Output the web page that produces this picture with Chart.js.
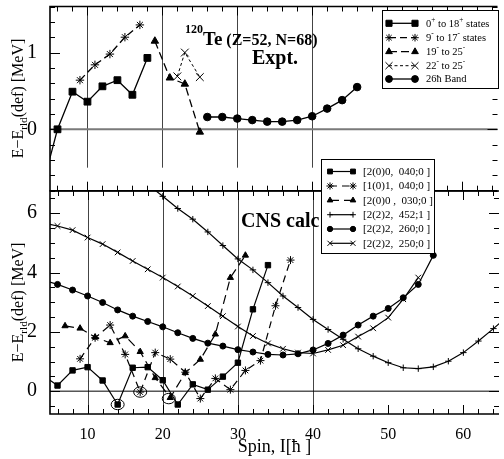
<!DOCTYPE html>
<html>
<head>
<meta charset="utf-8">
<script src="https://cdn.jsdelivr.net/npm/chart.js@4/dist/chart.umd.min.js"></script>
<style>
  html, body { margin: 0; padding: 0; background: #fff; }
  #wrap { position: relative; width: 504px; height: 459px; overflow: hidden; }
  canvas { position: absolute; left: 0; top: 0; }
</style>
</head>
<body>
<div id="wrap">
  <canvas id="expt" width="504" height="459"></canvas>
  <canvas id="cns" width="504" height="459"></canvas>
</div>
<script>
// ---- Expt. (painel de cima) ----
const gsbSpin = [4, 6, 8, 10, 12, 14, 16, 18];
const gsbE = [-0.74, 0, 0.49, 0.36, 0.56, 0.64, 0.45, 0.93];
const negSpin = [9, 11, 13, 15, 17];
const negE = [0.64, 0.84, 0.98, 1.2, 1.36];
const tri19Spin = [19, 21, 23, 25];
const tri19E = [1.15, 0.67, 0.59, -0.035];
const x22Spin = [22, 23, 25];
const x22E = [0.69, 1.0, 0.68];
const bandSpin = [26, 28, 30, 32, 34, 36, 38, 40, 42, 44, 46];
const bandE = [0.16, 0.16, 0.14, 0.12, 0.1, 0.1, 0.12, 0.17, 0.27, 0.38, 0.55];

// ---- CNS calc (painel de baixo) ----
const sqSpin = [4, 6, 8, 10, 12, 14, 16, 18, 20, 22, 24, 26, 28, 30, 32, 34];
const sqE = [0.55, 0.19, 0.7, 0.81, 0.36, -0.45, 0.79, 0.81, 0.37, -0.45, 0.23, 0.05, 0.49, 0.96, 2.76, 4.25];
const astSpin = [9, 11, 13, 15, 17, 19, 21, 23, 25, 27, 29, 31, 33, 35, 37];
const astE = [1.09, 1.8, 2.23, 1.24, -0.03, 1.3, 1.08, 0.64, -0.25, 0.43, 0.05, 0.7, 1.03, 2.88, 4.42];
const triSpin = [7, 9, 11, 13, 15, 17, 19, 21, 23, 25, 27, 29, 31];
const triE = [2.2, 2.12, 1.82, 1.63, 1.86, 1.33, 0.45, -0.22, 0.62, 1.07, 1.92, 3.83, 4.58];
const plusSpin = [18, 20, 22, 24, 26, 28, 30, 32, 34, 36, 38, 40, 42, 44, 46, 48, 50, 52, 54, 56, 58, 60, 62, 64, 66];
const plusE = [6.98, 6.57, 6.16, 5.8, 5.37, 4.91, 4.46, 4.09, 3.66, 3.21, 2.82, 2.42, 2.08, 1.75, 1.43, 1.18, 0.96, 0.79, 0.76, 0.82, 1.01, 1.3, 1.69, 2.11, 2.55];
const circSpin = [4, 6, 8, 10, 12, 14, 16, 18, 20, 22, 24, 26, 28, 30, 32, 34, 36, 38, 40, 42, 44, 46, 48, 50, 52, 54, 56];
const circE = [3.75, 3.6, 3.41, 3.21, 2.99, 2.74, 2.53, 2.35, 2.17, 1.97, 1.78, 1.62, 1.52, 1.4, 1.32, 1.24, 1.22, 1.26, 1.39, 1.61, 1.89, 2.23, 2.53, 2.79, 3.15, 3.6, 4.58];
const xSpin = [4, 6, 8, 10, 12, 14, 16, 18, 20, 22, 24, 26, 28, 30, 32, 34, 36, 38, 40, 42, 44, 46, 48, 50, 52, 54];
const xE = [5.68, 5.57, 5.43, 5.18, 4.96, 4.68, 4.39, 4.11, 3.83, 3.53, 3.21, 2.87, 2.53, 2.18, 1.86, 1.61, 1.43, 1.3, 1.27, 1.39, 1.55, 1.84, 2.12, 2.48, 3.1, 3.83];
// pontos circulados
const circledSpin = [14, 17, 20.8];
const circledE = [-0.45, -0.03, -0.25];

const spinTicks = [10, 20, 30, 40, 50, 60];
const vLines = [10, 20, 30, 40];

const FONT = '"Liberation Serif", "Times New Roman", serif';
Chart.defaults.font.family = FONT;
Chart.defaults.color = '#000';

function series(spin, e, style) {
  return Object.assign({
    data: spin.map((s, i) => ({ x: s, y: e[i] })),
    borderColor: '#000', backgroundColor: '#000',
    pointBackgroundColor: '#000', pointBorderColor: '#000',
    borderWidth: 1.3, pointBorderWidth: 1, fill: false, tension: 0
  }, style);
}

function drawRich(ctx, parts, x, y, size) {
  parts.forEach(p => {
    const mode = p[1];
    const s = mode ? size * 0.7 : size;
    ctx.font = s + 'px ' + FONT;
    const dy = mode === 'sup' ? -size * 0.4 : (mode === 'sub' ? size * 0.3 : 0);
    ctx.fillText(p[0], x, y + dy);
    x += ctx.measureText(p[0]).width;
  });
}

const decor = {
  id: 'decor',
  beforeDatasetsDraw(chart, args, o) {
    const { ctx, chartArea: a, scales: { x, y } } = chart;
    ctx.save();
    ctx.strokeStyle = '#444';
    ctx.lineWidth = 1;
    vLines.forEach(v => {
      const px = Math.round(x.getPixelForValue(v)) + 0.5;
      ctx.beginPath();
      ctx.moveTo(px, y.getPixelForValue(o.vFrom));
      ctx.lineTo(px, a.top);
      ctx.stroke();
    });
    ctx.strokeStyle = o.zeroColor;
    ctx.lineWidth = o.zeroWidth;
    const z = y.getPixelForValue(0);
    ctx.beginPath();
    ctx.moveTo(a.left, z);
    ctx.lineTo(a.right, z);
    ctx.stroke();
    ctx.restore();
  },
  afterDatasetsDraw(chart, args, o) {
    const { ctx, chartArea: a, scales: { x, y } } = chart;
    ctx.save();
    // circulos
    ctx.strokeStyle = '#000';
    ctx.lineWidth = 1;
    (o.circled || []).forEach(c => {
      ctx.beginPath();
      ctx.ellipse(x.getPixelForValue(c[0]), y.getPixelForValue(c[1]), 6.5, 5.2, 0, 0, Math.PI * 2);
      ctx.stroke();
    });
    // ticks para dentro
    ctx.beginPath();
    for (let v = 6; v <= x.max; v += 2) {
      const px = Math.round(x.getPixelForValue(v)) + 0.5;
      const len = v % 10 === 0 ? 9 : 5;
      ctx.moveTo(px, a.top); ctx.lineTo(px, a.top + len);
      ctx.moveTo(px, a.bottom); ctx.lineTo(px, a.bottom - len);
    }
    for (let k = Math.ceil(y.min / o.yStep); k * o.yStep <= y.max + 1e-9; k++) {
      const v = k * o.yStep;
      const py = Math.round(y.getPixelForValue(v)) + 0.5;
      const r = v / o.yMajor;
      const len = Math.abs(r - Math.round(r)) < 1e-6 ? 10 : 5;
      ctx.moveTo(a.left, py); ctx.lineTo(a.left + len, py);
      ctx.moveTo(a.right, py); ctx.lineTo(a.right - len, py);
    }
    ctx.stroke();
    // moldura
    ctx.lineWidth = 1.6;
    ctx.beginPath();
    ctx.moveTo(a.right, a.top); ctx.lineTo(a.left, a.top);
    ctx.lineTo(a.left, a.bottom); ctx.lineTo(a.right, a.bottom);
    ctx.stroke();
    // titulo do eixo y
    ctx.fillStyle = '#000';
    ctx.translate(17, (a.top + a.bottom) / 2);
    ctx.rotate(-Math.PI / 2);
    const tparts = [['E\u2212E'], ['rld', 'sub'], ['(def) [MeV]']];
    let w = 0;
    tparts.forEach(p => { ctx.font = (p[1] ? 11 : 16) + 'px ' + FONT; w += ctx.measureText(p[0]).width; });
    ctx.textBaseline = 'alphabetic';
    drawRich(ctx, tparts, -w / 2, 5.5, 16);
    ctx.setTransform(1, 0, 0, 1, 0, 0);
    // textos
    (o.texts || []).forEach(t => {
      let tx = t.x;
      t.parts.forEach(p => {
        ctx.font = 'bold ' + p.size + 'px ' + FONT;
        ctx.fillText(p.text, tx, t.y + (p.dy || 0));
        tx += ctx.measureText(p.text).width;
      });
    });
    // legenda
    const L = o.legend;
    if (L) {
      ctx.fillStyle = '#fff';
      ctx.fillRect(L.x, L.y, L.w, L.h);
      ctx.strokeStyle = '#000';
      ctx.lineWidth = 1;
      ctx.strokeRect(L.x + 0.5, L.y + 0.5, L.w, L.h);
      L.rows.forEach((label, i) => {
        const ds = chart.data.datasets[i];
        const ry = L.rowY[i];
        ctx.save();
        ctx.strokeStyle = '#000';
        ctx.lineWidth = ds.borderWidth;
        ctx.setLineDash(ds.borderDash || []);
        ctx.beginPath();
        ctx.moveTo(L.s1, ry); ctx.lineTo(L.s2, ry);
        ctx.stroke();
        ctx.restore();
        ctx.fillStyle = '#000';
        ctx.strokeStyle = '#000';
        ctx.lineWidth = 1;
        [L.s1, L.s2].forEach(sx => {
          Chart.helpers.drawPoint(ctx, { pointStyle: ds.pointStyle, radius: ds.pointRadius * 0.9, rotation: 0, borderWidth: 1 }, sx, ry);
        });
        ctx.fillStyle = '#000';
        ctx.textBaseline = 'middle';
        drawRich(ctx, label, L.tx, ry + 0.5, L.size);
      });
    }
    ctx.restore();
  }
};

function yScale(min, max, ticks) {
  return {
    type: 'linear', min: min, max: max,
    grid: { display: false }, border: { display: false },
    ticks: { font: { size: 20 }, padding: 5 },
    afterBuildTicks: s => { s.ticks = ticks.map(v => ({ value: v })); },
    afterFit: s => { s.width = 50; s.paddingTop = 0; s.paddingBottom = 0; }
  };
}

// grafico de cima
new Chart(document.getElementById('expt'), {
  type: 'line',
  data: {
    datasets: [
      series(gsbSpin, gsbE, { pointStyle: 'rect', pointRadius: 4.8 }),
      series(negSpin, negE, { pointStyle: 'star', pointRadius: 4.2, borderDash: [7, 4] }),
      series(tri19Spin, tri19E, { pointStyle: 'triangle', pointRadius: 4.3, borderDash: [8, 4] }),
      series(x22Spin, x22E, { pointStyle: 'crossRot', pointRadius: 5.5, borderWidth: 1, borderDash: [3, 2.5] }),
      series(bandSpin, bandE, { pointStyle: 'circle', pointRadius: 3.8 })
    ]
  },
  options: {
    responsive: false, animation: false, devicePixelRatio: 1,
    layout: { padding: { left: 0, right: 0, top: 4, bottom: 268.3 } },
    scales: {
      x: { type: 'linear', min: 5, max: 64.74, display: false },
      y: yScale(-0.8, 1.6, [0, 1])
    },
    plugins: {
      legend: { display: false }, tooltip: { enabled: false },
      decor: {
        vFrom: -0.5, zeroColor: '#7a7a7a', zeroWidth: 2, yStep: 0.2, yMajor: 1,
        texts: [
          { x: 185, y: 45, parts: [{ text: '120', size: 12, dy: -12 }, { text: 'Te', size: 19 }, { text: ' (Z=52, N=68)', size: 16 }] },
          { x: 252, y: 64, parts: [{ text: 'Expt.', size: 20 }] }
        ],
        legend: {
          x: 382, y: 10, w: 116, h: 78, s1: 389, s2: 415, tx: 426, size: 10.5,
          rowY: [23.3, 37.7, 51.7, 65.7, 79],
          rows: [
            [['0'], ['+', 'sup'], [' to 18'], ['+', 'sup'], [' states']],
            [['9'], ['-', 'sup'], [' to 17'], ['-', 'sup'], [' states']],
            [['19'], ['-', 'sup'], [' to 25'], ['-', 'sup']],
            [['22'], ['-', 'sup'], [' to 25'], ['-', 'sup']],
            [['26\u0127 Band']]
          ]
        }
      }
    }
  },
  plugins: [decor]
});

// grafico de baixo
new Chart(document.getElementById('cns'), {
  type: 'line',
  data: {
    datasets: [
      series(sqSpin, sqE, { pointStyle: 'rect', pointRadius: 3.8, borderWidth: 1.2 }),
      series(astSpin, astE, { pointStyle: 'star', pointRadius: 4, borderWidth: 1.2, borderDash: [7, 5] }),
      series(triSpin, triE, { pointStyle: 'triangle', pointRadius: 3.6, borderWidth: 1.2, borderDash: [9, 5] }),
      series(plusSpin, plusE, { pointStyle: 'cross', pointRadius: 3.2, borderWidth: 1.2 }),
      series(circSpin, circE, { pointStyle: 'circle', pointRadius: 3, borderWidth: 1.2 }),
      series(xSpin, xE, { pointStyle: 'crossRot', pointRadius: 4, borderWidth: 1.2 })
    ]
  },
  options: {
    responsive: false, animation: false, devicePixelRatio: 1,
    layout: { padding: { left: 0, right: 0, top: 191, bottom: 1 } },
    scales: {
      x: {
        type: 'linear', min: 5, max: 64.74,
        grid: { display: false }, border: { display: false },
        ticks: { font: { size: 16 }, padding: 3, maxRotation: 0, autoSkip: false },
        afterBuildTicks: s => { s.ticks = spinTicks.map(v => ({ value: v })); },
        afterFit: s => { s.height = 44; s.paddingLeft = 0; s.paddingRight = 0; },
        title: { display: true, text: 'Spin, I[\u0127 ]', font: { size: 18 }, padding: { top: 0, bottom: 0 } }
      },
      y: yScale(-0.77, 6.75, [0, 2, 4, 6])
    },
    plugins: {
      legend: { display: false }, tooltip: { enabled: false },
      decor: {
        vFrom: -0.77, zeroColor: '#000', zeroWidth: 1, yStep: 0.5, yMajor: 2,
        circled: circledSpin.map((s, i) => [s, circledE[i]]),
        texts: [{ x: 241, y: 227, parts: [{ text: 'CNS calc', size: 20 }] }],
        legend: {
          x: 321, y: 159, w: 113, h: 94, s1: 330, s2: 353, tx: 363, size: 11,
          rowY: [171.5, 186, 200.3, 214.7, 229, 243.3],
          rows: [
            [['[2(0)0,  040;0 ]']],
            [['[1(0)1,  040;0 ]']],
            [['[2(0)0 ,  030;0 ]']],
            [['[2(2)2,  452;1 ]']],
            [['[2(2)2,  260;0 ]']],
            [['[2(2)2,  250;0 ]']]
          ]
        }
      }
    }
  },
  plugins: [decor]
});
</script>
</body>
</html>
